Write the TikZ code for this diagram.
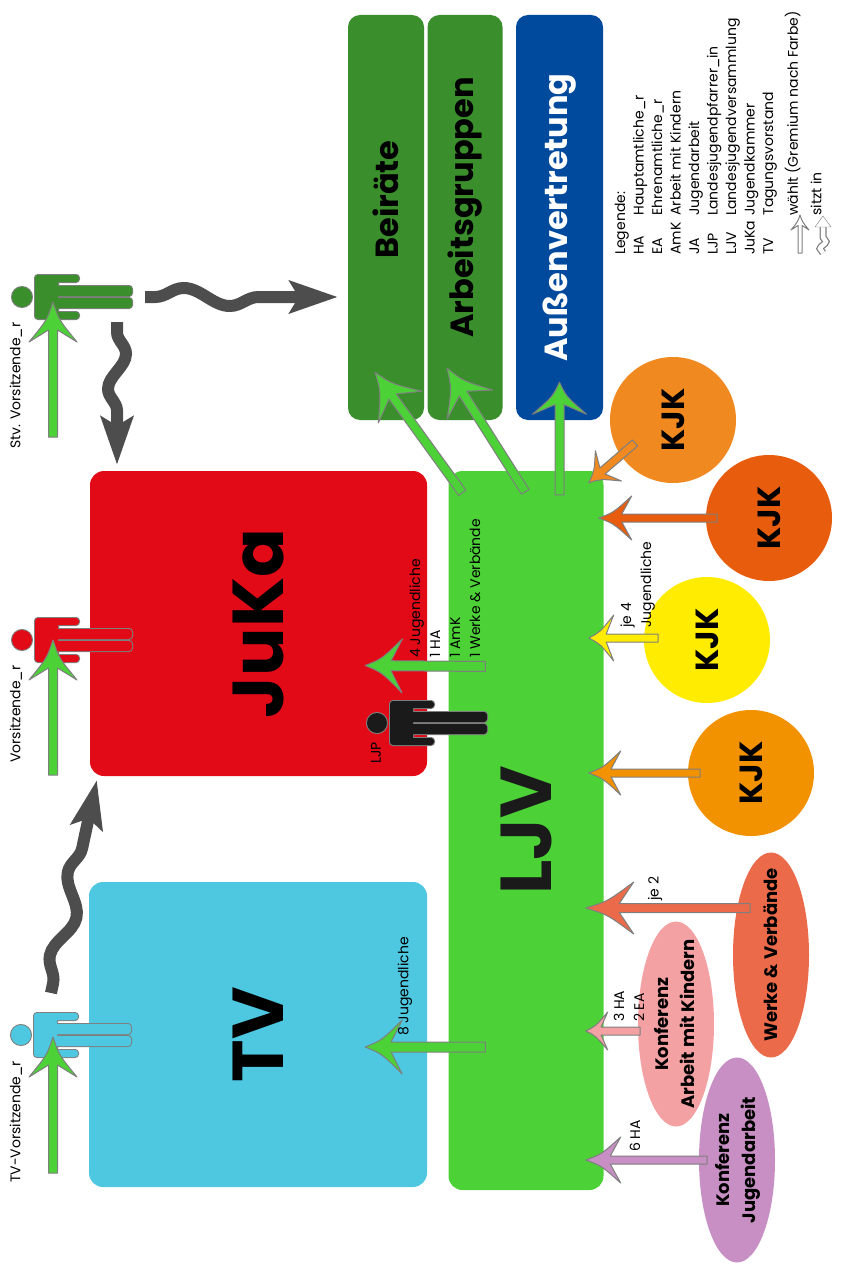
\documentclass[tikz,border=0pt]{standalone}
\usepackage{fontspec}
\setmainfont{Poppins}
\usepackage{graphicx}
\usetikzlibrary{calc,arrows.meta,decorations.pathmorphing,shapes.geometric}

\definecolor{jukared}{HTML}{E20A17}
\definecolor{tvblue}{HTML}{4EC8E1}
\definecolor{ljvgreen}{HTML}{4CD137}
\definecolor{boardgreen}{HTML}{3A8E2C}
\definecolor{outblue}{HTML}{004A9E}
\definecolor{kjkorange}{HTML}{F0891F}
\definecolor{kjkdark}{HTML}{E85C0E}
\definecolor{kjkyellow}{HTML}{FFEC00}
\definecolor{kjkamber}{HTML}{F39200}
\definecolor{werkecol}{HTML}{EB6A4A}
\definecolor{amkcol}{HTML}{F4A1A3}
\definecolor{jacol}{HTML}{C78FC3}
\definecolor{wavegray}{HTML}{4D4D4D}
\definecolor{figline}{HTML}{7F7F7F}
\definecolor{ljpblack}{HTML}{1A1A1A}

\tikzset{
  box/.style={rectangle, rounded corners=14, inner sep=0, font=\bfseries\fontsize{72}{72}\selectfont},
  gbox/.style={rectangle, rounded corners=12, inner sep=0, font=\bfseries\fontsize{32}{32}\selectfont},
  kjk/.style={circle, minimum size=126, inner sep=0, font=\bfseries\fontsize{32}{32}\selectfont},
  konf/.style={ellipse, minimum width=76, minimum height=205, inner sep=0},
  konftext/.style={inner sep=0, font=\bfseries\fontsize{18}{26}\selectfont},
  lbl/.style={inner sep=0, font=\fontsize{14}{20}\selectfont},
  barrow/.style={draw=figline, line width=1, line join=round},
  wavy/.style={draw=wavegray, line width=12, decorate,
    decoration={snake, segment length=#1, amplitude=9, pre length=10, post length=42},
    -{Stealth[length=48pt, width=32pt, inset=9pt]}},
  wavy/.default=92,
  person/.pic={
    \path[fill=#1, rounded corners=3, preaction={draw=figline, line width=2}]
      (0,0) circle[radius=10]
      (13,-22) rectangle (36,22)
      (13,-22) rectangle (57,-15) (13,15) rectangle (57,22)
      (30,-11) rectangle (110,-1) (30,1) rectangle (110,11);
  }
}

% block arrow: [style]{from}{to}{head length}{half head width}{half shaft width}
\newcommand\blockarrow[6][]{%
  \coordinate (ba-s) at #2;
  \coordinate (ba-t) at #3;
  \pgfmathsetmacro\baneck{0.7*#4}
  \pgfmathsetmacro\bactrl{0.45*#4}
  \pgfmathsetmacro\babow{0.25*#5}
  \coordinate (ba-h) at ($(ba-t)!#4pt!(ba-s)$);
  \coordinate (ba-n) at ($(ba-t)!\baneck pt!(ba-s)$);
  \coordinate (ba-c) at ($(ba-t)!\bactrl pt!(ba-s)$);
  \draw[barrow,#1] ($(ba-s)!#6pt!90:(ba-t)$) -- ($(ba-n)!#6pt!90:(ba-t)$)
    -- ($(ba-h)!#5pt!90:(ba-t)$) .. controls ($(ba-c)!\babow pt!90:(ba-t)$) .. (ba-t)
    .. controls ($(ba-c)!\babow pt!-90:(ba-t)$) .. ($(ba-h)!#5pt!-90:(ba-t)$)
    -- ($(ba-n)!#6pt!-90:(ba-t)$) -- ($(ba-s)!#6pt!-90:(ba-t)$) -- cycle;
}

\begin{document}
\begin{tikzpicture}[x=1pt,y=-1pt]
  \useasboundingbox (0,0) rectangle (841,1271);
  % boards on top
  \node[gbox, fill=boardgreen, minimum width=76, minimum height=405] (beirat) at (386,217.5) {\rotatebox{90}{\hspace{36pt}Beiräte}};
  \node[gbox, fill=boardgreen, minimum width=75, minimum height=405] (agruppen) at (465,217.5) {\rotatebox{90}{\hspace{20pt}Arbeitsgruppen}};
  \node[gbox, fill=outblue, text=white, minimum width=87, minimum height=405] (aussen) at (559.5,217.5) {\rotatebox{90}{Außenvertretung}};
  % main bodies
  \node[box, fill=jukared, minimum width=337, minimum height=305] (juka) at (258.5,623.5) {\rotatebox{90}{JuKa}};
  \node[box, fill=tvblue, minimum width=338, minimum height=305] (tv) at (258,1034.5) {\rotatebox{90}{TV}};
  \node[box, fill=ljvgreen, text=ljpblack, minimum width=155, minimum height=719] (ljv) at (526,830.5) {\rotatebox{90}{LJV}};
  % KJK circles
  \node[kjk, fill=kjkorange] (kjka) at (673,420) {\rotatebox{90}{KJK}};
  \node[kjk, fill=kjkdark] (kjkb) at (769,518) {\rotatebox{90}{KJK}};
  \node[kjk, fill=kjkyellow] (kjkc) at (707,640) {\rotatebox{90}{KJK}};
  \node[kjk, fill=kjkamber] (kjkd) at (751,773) {\rotatebox{90}{KJK}};
  % conferences
  \node[konf, fill=werkecol, label={[konftext]center:\rotatebox{90}{Werke \& Verbände}}] (werke) at (771,955) {};
  \node[konf, fill=amkcol, label={[konftext]center:\rotatebox{90}{\begin{tabular}{@{}c@{}}Konferenz\\Arbeit mit Kindern\end{tabular}}}] (amk) at (676,1024) {};
  \node[konf, fill=jacol, label={[konftext]center:\rotatebox{90}{\begin{tabular}{@{}c@{}}Konferenz\\Jugendarbeit\end{tabular}}}] (ja) at (737,1160) {};
  % persons
  \coordinate (stv) at (22,297);
  \coordinate (vors) at (22,640);
  \coordinate (tvvors) at (21,1035);
  \coordinate (ljp) at (377,723);
  \pic at (stv) {person=boardgreen};
  \pic at (vors) {person=jukared};
  \pic at (tvvors) {person=tvblue};
  \pic at (ljp) {person=ljpblack};
  \node[lbl, anchor=south] (stvlbl) at (16,449) {\rotatebox{90}{Stv. Vorsitzende\_r}};
  \node[lbl, anchor=south] (vorslbl) at (16,763) {\rotatebox{90}{Vorsitzende\_r}};
  \node[lbl, anchor=south] (tvlbl) at (16,1183) {\rotatebox{90}{TV-Vorsitzende\_r}};
  \node[lbl, anchor=south] (ljplbl) at (376,764) {\rotatebox{90}{LJP}};
  % sitzt in
  \draw[wavy] ($(stv)+(123,0)$) -- ($(beirat.west |- stv)+(-10,0)$);
  \draw[wavy=70] ($(stv)+(95,25)$) -- ($(juka.north -| stv)+(95,-6)$);
  \draw[wavy=85] ($(tvvors)+(30,-42)$) -- ($(juka.south west)+(7,4)$);
  % waehlt
  \blockarrow[fill=ljvgreen]{($(stv)+(31,140)$)}{($(stv)+(31,5)$)}{40}{24}{4.5}
  \blockarrow[fill=ljvgreen]{($(vors)+(31,135)$)}{($(vors)+(31,0)$)}{40}{24}{4.5}
  \blockarrow[fill=ljvgreen]{($(tvvors)+(32,138)$)}{($(tvvors)+(32,2)$)}{40}{24}{4.5}
  \blockarrow[fill=ljvgreen]{($(ljv.north west)+(14,22)$)}{($(beirat.south)+(-11,-48)$)}{43}{27}{4.5}
  \blockarrow[fill=ljvgreen]{($(ljv.north west)+(77,21)$)}{($(agruppen.south)+(-18,-52)$)}{43}{27}{4.5}
  \blockarrow[fill=ljvgreen]{($(aussen.south |- ljv.north)+(0,24)$)}{($(aussen.south)+(0,-38)$)}{32}{27}{4.5}
  \blockarrow[fill=ljvgreen]{($(ljv.west)+(37,-164)$)}{($(juka.east)+(-62,42)$)}{37}{27}{5}
  \blockarrow[fill=ljvgreen]{($(ljv.west |- tv)+(37,12.5)$)}{($(tv.east)+(-62,12.5)$)}{37}{27}{5}
  \blockarrow[fill=kjkorange]{($(kjka)+(-38,23)$)}{($(ljv.north east)+(-15,12)$)}{26}{20}{4}
  \blockarrow[fill=kjkdark]{($(kjkb)+(-52,0)$)}{($(ljv.east |- kjkb)+(-5,0)$)}{33}{22}{4}
  \blockarrow[fill=kjkyellow]{($(kjkc)+(-49,-2)$)}{($(ljv.east |- kjkc)+(-15,-2)$)}{25}{23}{4}
  \blockarrow[fill=kjkamber]{($(kjkd)+(-51,0)$)}{($(ljv.east |- kjkd)+(-15,0)$)}{32}{22}{4}
  \blockarrow[fill=werkecol]{($(werke)+(-21,-47)$)}{($(ljv.east |- werke)+(-18,-47)$)}{48}{26}{4.5}
  \blockarrow[fill=amkcol]{($(amk)+(-36,7)$)}{($(ljv.east |- amk)+(-18,7)$)}{22}{19}{4}
  \blockarrow[fill=jacol]{($(ja)+(-30,0)$)}{($(ljv.east |- ja)+(-18,0)$)}{35}{23}{4}
  % numbers at the arrows
  \node[lbl, anchor=south west] (jukanum) at (406,658) {\rotatebox{90}{\begin{tabular}{@{}l@{}}4 Jugendliche\\1 HA\\1 AmK\\1 Werke \& Verbände\end{tabular}}};
  \node[lbl, anchor=south] (tvnum) at (405,1036) {\rotatebox{90}{8 Jugendliche}};
  \node[lbl, anchor=south west] (kjknum) at (617,628) {\rotatebox{90}{\begin{tabular}{@{}l@{}}je 4\\Jugendliche\end{tabular}}};
  \node[lbl, anchor=south] (werkenum) at (655,901) {\rotatebox{90}{je 2}};
  \node[lbl, anchor=south west] (amknum) at (610,1022) {\rotatebox{90}{\begin{tabular}{@{}l@{}}3 HA\\2 EA\end{tabular}}};
  \node[lbl, anchor=south] (janum) at (635,1152) {\rotatebox{90}{6 HA}};
  % legend
  \node[lbl, anchor=south west, font=\fontsize{14}{18.5}\selectfont] (legend) at (612,255) {\rotatebox{90}{\begin{tabular}{@{}l@{\hspace{5pt}}l@{}}
    \multicolumn{2}{@{}l}{Legende:}\\
    HA & Hauptamtliche\_r\\
    EA & Ehrenamtliche\_r\\
    AmK & Arbeit mit Kindern\\
    JA & Jugendarbeit\\
    LJP & Landesjugendpfarrer\_in\\
    LJV & Landesjugendversammlung\\
    JuKa & Jugendkammer\\
    TV & Tagungsvorstand\\[6pt]
     & wählt (Gremium nach Farbe)\\[5pt]
     & sitzt in
  \end{tabular}}};
  \coordinate (keyw) at (800,253);
  \coordinate (keys) at (823,253);
  \blockarrow[fill=white]{(keyw)}{($(keyw)+(0,-38)$)}{15}{9}{2}
  \draw[figline, line width=7, decorate, decoration={snake, segment length=14, amplitude=3, post length=6}] (keys) -- ($(keys)+(0,-26)$);
  \draw[white, line width=4.5, decorate, decoration={snake, segment length=14, amplitude=3, post length=6}] (keys) -- ($(keys)+(0,-27)$);
  \draw[fill=white, draw=figline, line join=round] ($(keys)+(-8,-26)$) -- ($(keys)+(0,-37)$) -- ($(keys)+(8,-26)$) -- cycle;
\end{tikzpicture}
\end{document}
